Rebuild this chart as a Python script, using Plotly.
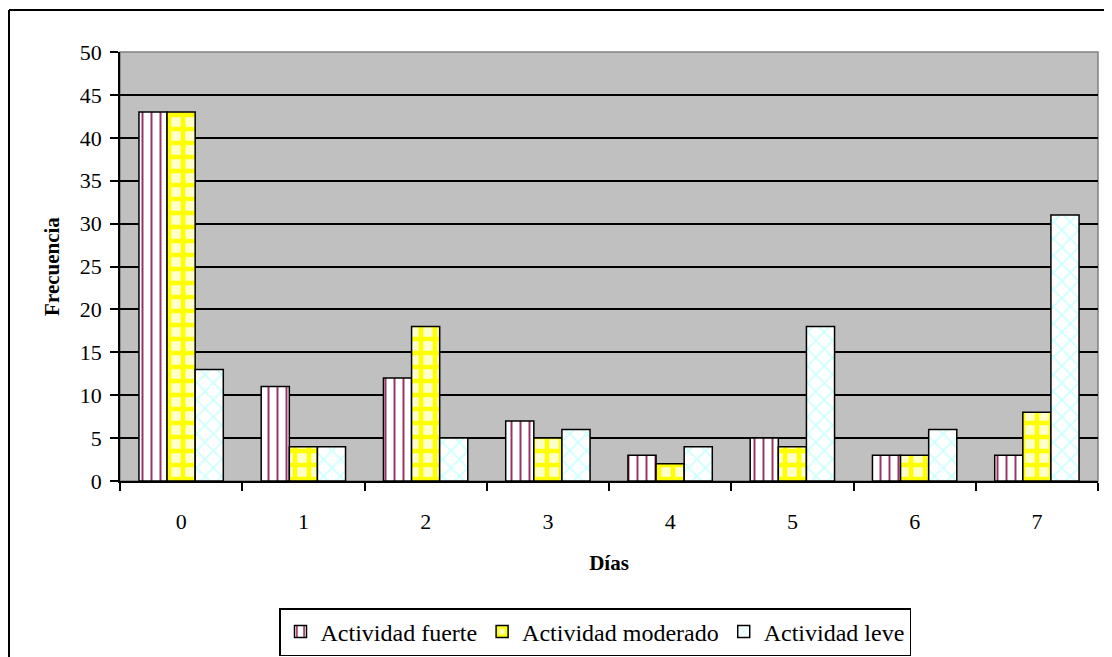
import plotly.graph_objects as go

dias = ["0", "1", "2", "3", "4", "5", "6", "7"]
fuerte = [43, 11, 12, 7, 3, 5, 3, 3]
moderado = [43, 4, 18, 5, 2, 4, 3, 8]
leve = [13, 4, 5, 6, 4, 18, 6, 31]
y_ticks = [0, 5, 10, 15, 20, 25, 30, 35, 40, 45, 50]

FONT = "Liberation Serif, Times New Roman, serif"

fig = go.Figure()
fig.add_trace(go.Bar(
    x=dias, y=fuerte, name="Actividad fuerte",
    marker=dict(color="white", line=dict(color="black", width=1.5),
                pattern=dict(shape="|", fgcolor="#993366", bgcolor="white",
                             size=9, solidity=0.22, fillmode="replace")),
))
fig.add_trace(go.Bar(
    x=dias, y=moderado, name="Actividad moderado",
    marker=dict(color="#FFFF00", line=dict(color="black", width=1.5),
                pattern=dict(shape="+", fgcolor="#FFFF00", bgcolor="#FFFFCC",
                             size=14, solidity=0.55, fillmode="replace")),
))
fig.add_trace(go.Bar(
    x=dias, y=leve, name="Actividad leve",
    marker=dict(color="white", line=dict(color="black", width=1.5),
                pattern=dict(shape="x", fgcolor="#CCFFFF", bgcolor="white",
                             size=12, solidity=0.25, fillmode="replace")),
))

# page has an 8px body margin; figure coords = page coords - 8
OFF = 8
W, H = 1112 - OFF, 657 - OFF
L, T = 120 - OFF, 52 - OFF
R = W - (1098 - OFF)
B = H - (481 - OFF)
pw, ph = W - L - R, H - T - B

def px_x(p):
    return (p - OFF - L) / pw

def px_y(p):
    return (H - B - (p - OFF)) / ph

shapes = [
    dict(type="line", xref="paper", yref="paper", x0=px_x(9), x1=px_x(9),
         y0=px_y(10), y1=px_y(670), line=dict(color="black", width=2)),
    dict(type="line", xref="paper", yref="paper", x0=px_x(9), x1=px_x(1125),
         y0=px_y(10), y1=px_y(10), line=dict(color="black", width=2)),
    dict(type="rect", xref="paper", yref="paper", x0=0, x1=1, y0=0, y1=1,
         line=dict(color="#808080", width=1.5), layer="below"),
]

fig.update_layout(
    width=W, height=H,
    margin=dict(l=L, r=R, t=T, b=B, autoexpand=False),
    paper_bgcolor="white",
    plot_bgcolor="#C0C0C0",
    barmode="group",
    bargap=0.31,
    bargroupgap=0,
    font=dict(family=FONT, size=22, color="black"),
    shapes=shapes,
    legend=dict(
        orientation="h", x=px_x(279), y=px_y(608), xanchor="left", yanchor="top",
        bordercolor="black", borderwidth=1.5, bgcolor="white",
        font=dict(family=FONT, size=24), itemwidth=30, tracegroupgap=0,
    ),
    xaxis=dict(
        type="category", tickson="boundaries", ticks="outside", ticklen=8,
        tickwidth=1.5, tickcolor="black", showline=True, linecolor="black",
        linewidth=1.5, showgrid=False, ticklabelstandoff=20,
        title=dict(text="<b>Días</b>", font=dict(family=FONT, size=21), standoff=22),
        tickfont=dict(family=FONT, size=22),
    ),
    yaxis=dict(
        range=[0, 50], tickvals=y_ticks, ticks="outside", ticklen=8,
        tickwidth=1.5, tickcolor="black", showline=True, linecolor="black",
        linewidth=1.5, showgrid=True, gridcolor="black", gridwidth=1.5,
        zeroline=False, ticklabelstandoff=4,
        title=dict(text="<b>Frecuencia</b>", font=dict(family=FONT, size=21), standoff=14),
        tickfont=dict(family=FONT, size=22),
    ),
)

fig.write_html("out.html")
